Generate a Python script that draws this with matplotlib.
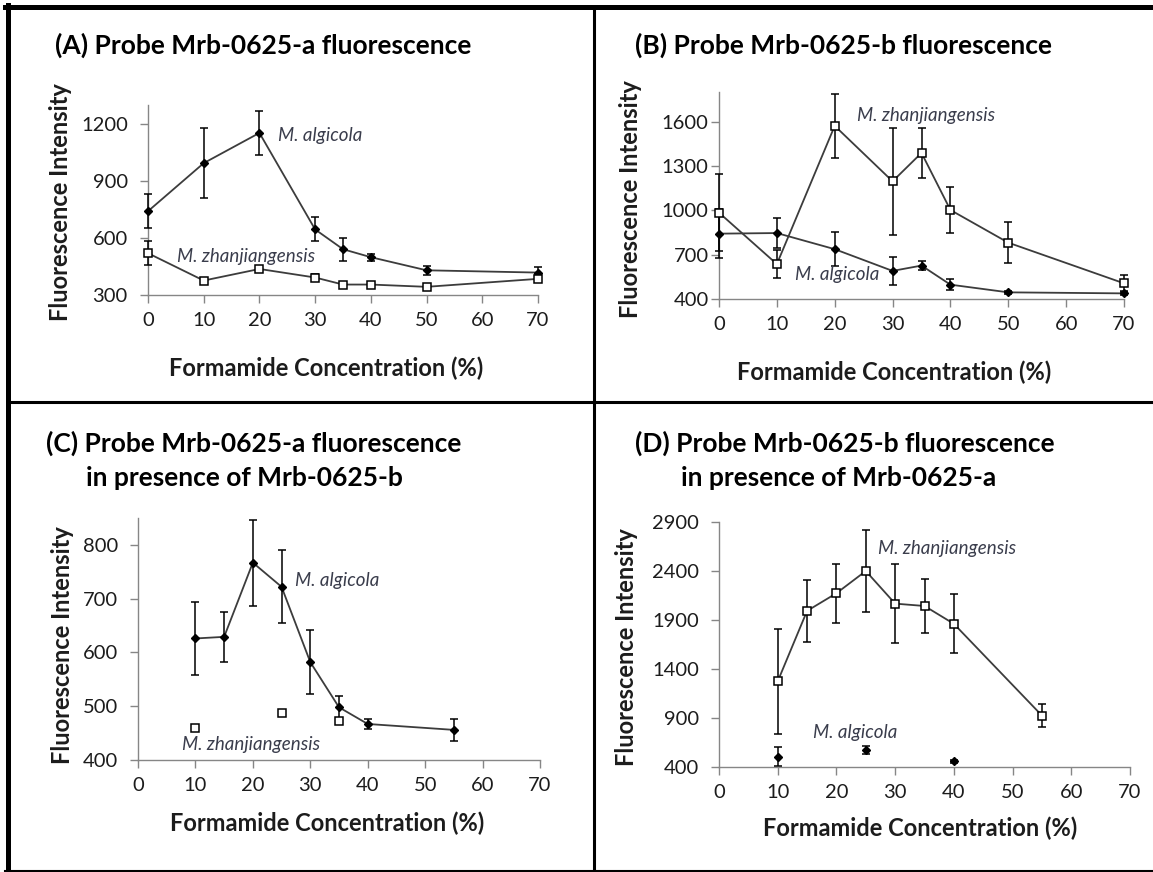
import matplotlib
matplotlib.use("Agg")
import matplotlib.pyplot as plt
from matplotlib.lines import Line2D

W, H = 1153, 872
plt.rcParams['font.family'] = ['Lato', 'DejaVu Sans']

AXIS = '#868686'
TXT = '#1c1c1c'
LINE = '#3c3c3c'
SPEC = '#3a3d4c'

# (A) probe Mrb-0625-a alone
a_conc = [0, 10, 20, 30, 35, 40, 50, 70]
a_alg = [741, 994, 1153, 645, 541, 499, 430, 418]
a_alg_err = [88, 185, 117, 63, 60, 19, 23, 30]
a_zha = [520, 376, 437, 392, 355, 355, 343, 385]
a_zha_err = [62, 10, 10, 20, 8, 8, 8, 18]

# (B) probe Mrb-0625-b alone
b_conc = [0, 10, 20, 30, 35, 40, 50, 70]
b_zha = [984, 636, 1571, 1196, 1388, 1002, 781, 506]
b_zha_err = [260, 95, 215, 360, 170, 155, 138, 53]
b_alg = [842, 846, 737, 590, 626, 497, 445, 438]
b_alg_err = [165, 100, 115, 95, 33, 35, 12, 12]

# (C) Mrb-0625-a with Mrb-0625-b
c_alg_conc = [10, 15, 20, 25, 30, 35, 40, 55]
c_alg = [626, 629, 767, 722, 582, 498, 467, 456]
c_alg_err = [68, 47, 80, 68, 59, 21, 10, 20]
c_zha_conc = [10, 25, 35]
c_zha = [459, 487, 472]

# (D) Mrb-0625-b with Mrb-0625-a
d_zha_conc = [10, 15, 20, 25, 30, 35, 40, 55]
d_zha = [1274, 1993, 2173, 2400, 2067, 2043, 1861, 925]
d_zha_err = [535, 320, 300, 420, 400, 275, 300, 120]
d_alg_conc = [10, 25, 40]
d_alg = [505, 577, 460]
d_alg_err = [95, 40, 15]

fig = plt.figure(figsize=(W / 100, H / 100), dpi=100)
fig.patch.set_facecolor('white')


def fx(px):
    return px / W


def fy(py):
    return 1 - py / H


def make_axes(box, ylim, yticks, ypad, xpad):
    l, r, t, b = box
    ax = fig.add_axes([fx(l), fy(b), (r - l) / W, (b - t) / H])
    ax.patch.set_alpha(0)
    ax.set_xlim(0, 70)
    ax.set_ylim(*ylim)
    ax.set_xticks(range(0, 71, 10))
    ax.set_yticks(yticks)
    for s in ('top', 'right'):
        ax.spines[s].set_visible(False)
    for s in ('left', 'bottom'):
        ax.spines[s].set_color(AXIS)
        ax.spines[s].set_linewidth(1.0)
    ax.tick_params(direction='out', length=5.5, width=1.0, color=AXIS,
                   labelsize=14.5, labelcolor=TXT)
    ax.tick_params(axis='y', pad=ypad)
    ax.tick_params(axis='x', pad=xpad)
    return ax


def series(ax, x, y, err, marker, line=True):
    if line:
        ax.plot(x, y, color=LINE, lw=1.3, zorder=2, clip_on=False)
    if err is not None:
        ax.errorbar(x, y, yerr=err, fmt='none', ecolor='black', elinewidth=1.1,
                    capsize=2.9, capthick=1.1, zorder=3, clip_on=False)
    if marker == 's':
        ax.plot(x, y, ls='none', marker='s', ms=6.4, mfc='white', mec='black',
                mew=1.1, zorder=4, clip_on=False)
    else:
        ax.plot(x, y, ls='none', marker='D', ms=4.2, mfc='black', mec='black',
                zorder=4, clip_on=False)


def species(ax, x, y, text):
    ax.text(x, y, text, style='italic', fontsize=13.5, color=SPEC,
            ha='left', va='center')


def label_text(x, y, text, rot=0):
    fig.text(fx(x), fy(y), text, fontsize=17, fontweight='bold', color=TXT,
             ha='center', va='center', rotation=rot)


def title_text(x, y, text):
    fig.text(fx(x), fy(y), text, fontsize=19, fontweight='bold', color='black',
             ha='left', va='center')


# panel A
axA = make_axes((148, 538, 105, 295), (300, 1300), [300, 600, 900, 1200], 9, 7)
series(axA, a_conc, a_alg, a_alg_err, 'D')
series(axA, a_conc, a_zha, a_zha_err, 's')
species(axA, 23.3, 1142, 'M. algicola')
species(axA, 5.2, 504, 'M. zhanjiangensis')
title_text(55, 45, '(A) Probe Mrb-0625-a fluorescence')
label_text(61, 202, 'Fluorescence Intensity', 90)
label_text(326, 368, 'Formamide Concentration (%)')

# panel B
axB = make_axes((719, 1124, 92, 299), (400, 1800), [400, 700, 1000, 1300, 1600], 2, 7)
series(axB, b_conc, b_alg, b_alg_err, 'D')
series(axB, b_conc, b_zha, b_zha_err, 's')
species(axB, 23.8, 1641, 'M. zhanjiangensis')
species(axB, 13.1, 565, 'M. algicola')
title_text(635, 45, '(B) Probe Mrb-0625-b fluorescence')
label_text(630, 199, 'Fluorescence Intensity', 90)
label_text(894, 372, 'Formamide Concentration (%)')

# panel C
axC = make_axes((138, 540, 518, 760), (400, 850), [400, 500, 600, 700, 800], 9, 7)
series(axC, c_alg_conc, c_alg, c_alg_err, 'D')
series(axC, c_zha_conc, c_zha, None, 's', line=False)
species(axC, 27.4, 733, 'M. algicola')
species(axC, 7.6, 429, 'M. zhanjiangensis')
title_text(46, 443, '(C) Probe Mrb-0625-a fluorescence')
title_text(86, 478, 'in presence of Mrb-0625-b')
label_text(63, 645, 'Fluorescence Intensity', 90)
label_text(327, 823, 'Formamide Concentration (%)')

# panel D
axD = make_axes((719, 1130, 522, 767), (400, 2900), [400, 900, 1400, 1900, 2400, 2900], 9, 7)
series(axD, d_zha_conc, d_zha, d_zha_err, 's')
series(axD, d_alg_conc, d_alg, d_alg_err, 'D', line=False)
species(axD, 27.1, 2631, 'M. zhanjiangensis')
species(axD, 16.0, 757, 'M. algicola')
title_text(635, 443, '(D) Probe Mrb-0625-b fluorescence')
title_text(681, 478, 'in presence of Mrb-0625-a')
label_text(626, 647, 'Fluorescence Intensity', 90)
label_text(920, 828, 'Formamide Concentration (%)')

# frame and dividers between the panels
frame = [
    ((5, 7.5), (1153, 7.5), 3.6),
    ((7.5, 5), (7.5, 872), 3.6),
    ((594, 10), (594, 872), 2.2),
    ((10, 402), (1153, 402), 2.2),
    ((5, 871), (1153, 871), 1.5),
]
for (x0, y0), (x1, y1), lw in frame:
    fig.add_artist(Line2D([fx(x0), fx(x1)], [fy(y0), fy(y1)],
                          transform=fig.transFigure, color='black', lw=lw))

fig.savefig('out.png', dpi=100)
